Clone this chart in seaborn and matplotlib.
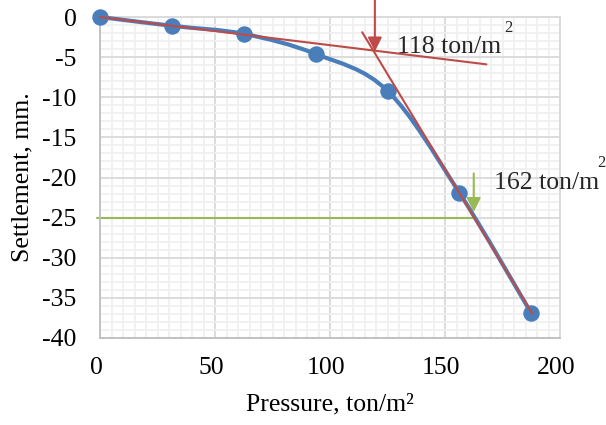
import numpy as np
import pandas as pd
import seaborn as sns
import matplotlib
matplotlib.use("Agg")
import matplotlib.pyplot as plt
import matplotlib.transforms as mtransforms
from matplotlib.path import Path
from matplotlib.patches import PathPatch
from matplotlib.ticker import MultipleLocator

# ---- data ----
pressure = [0, 31.25, 62.5, 93.75, 125, 156.25, 187.5]
settlement = [0, -1.1, -2.1, -4.6, -9.2, -21.9, -36.9]

tangent1_x = [0, 168]
tangent1_y = [0, -5.9]
tangent2_x = [114, 188]
tangent2_y = [-1.9, -37.0]

yield_pressure = 118
yield_label = "118 ton/m"
allow_pressure = 162
allow_label = "162 ton/m"
allow_settlement = -25

x_ticks = [0, 50, 100, 150, 200]
y_ticks = [0, -5, -10, -15, -20, -25, -30, -35, -40]

BLUE = "#4A7EBB"
RED = "#BE4B48"
GREEN = "#98B954"

sns.set_theme(style="white")
plt.rcParams["font.family"] = ["Liberation Serif", "DejaVu Serif"]

fig = plt.figure(figsize=(6.06, 4.25), dpi=100)
ax = fig.add_axes([100 / 606, 1 - 338 / 425, 460 / 606, 321 / 425])

df = pd.DataFrame({"Pressure": pressure, "Settlement": settlement})

# smooth curve (Excel-style Catmull-Rom Bezier through data points)
P = np.column_stack([pressure, settlement]).astype(float)
ext = np.vstack([P[0], P, P[-1]])
verts = [tuple(P[0])]
codes = [Path.MOVETO]
for i in range(len(P) - 1):
    p0, p1, p2, p3 = ext[i], ext[i + 1], ext[i + 2], ext[i + 3]
    c1 = p1 + (p2 - p0) / 6.0
    c2 = p2 - (p3 - p1) / 6.0
    verts += [tuple(c1), tuple(c2), tuple(p2)]
    codes += [Path.CURVE4] * 3
ax.add_patch(PathPatch(Path(verts, codes), facecolor="none", edgecolor=BLUE,
                       lw=3, zorder=3, capstyle="round", clip_on=False))

sc = sns.scatterplot(data=df, x="Pressure", y="Settlement", ax=ax, color=BLUE,
                     s=140, edgecolor=BLUE, linewidth=0, zorder=4, legend=False)
for coll in ax.collections:
    coll.set_clip_on(False)

# tangents
ax.plot(tangent1_x, tangent1_y, color=RED, lw=1.5, zorder=5, clip_on=False)
ax.plot(tangent2_x, tangent2_y, color=RED, lw=1.5, zorder=5)

# green settlement line
ax.plot([-1.5, allow_pressure], [allow_settlement, allow_settlement],
        color=GREEN, lw=1.5, zorder=2, clip_on=False)

# arrows
ax.annotate("", xy=(119.5, -4.3), xytext=(119.5, 2.1),
            arrowprops=dict(arrowstyle="-|>,head_length=0.7,head_width=0.35",
                            color=RED, lw=1.5, shrinkA=0, shrinkB=0),
            annotation_clip=False, zorder=6)
ax.annotate("", xy=(162.5, -24.3), xytext=(162.5, -19.5),
            arrowprops=dict(arrowstyle="-|>,head_length=0.7,head_width=0.35",
                            color=GREEN, lw=1.5, shrinkA=0, shrinkB=0),
            annotation_clip=False, zorder=6)

# labels for the two pressures
ax.text(129, -3.7, yield_label, fontsize=18.5, ha="left", va="center", zorder=7)
ax.text(177.5, -1.4, "2", fontsize=12, ha="center", va="center", zorder=7)
ax.text(171.5, -20.7, allow_label, fontsize=18.5, ha="left", va="center",
        zorder=7, clip_on=False)
ax.text(218, -18.2, "2", fontsize=12, ha="center", va="center",
        zorder=7, clip_on=False)

# axes
ax.set_xlim(0, 200)
ax.set_ylim(-40, 0)
ax.set_xticks(x_ticks)
ax.set_yticks(y_ticks)
ax.set_xticklabels([str(t) for t in x_ticks])
ax.set_yticklabels([str(t) for t in y_ticks])
ax.xaxis.set_minor_locator(MultipleLocator(5))
ax.yaxis.set_minor_locator(MultipleLocator(1))
ax.grid(which="major", color="#D9D9D9", lw=1.3, zorder=0)
ax.grid(which="minor", color="#F0F0F0", lw=1.3, zorder=0)
ax.set_axisbelow(True)
ax.tick_params(which="both", length=0, labelsize=18.5, colors="black")
ax.tick_params(axis="x", pad=14)
ax.tick_params(axis="y", pad=17)
shift = mtransforms.ScaledTranslation(-4 / 100, 0, fig.dpi_scale_trans)
for lbl in ax.get_xticklabels():
    lbl.set_transform(lbl.get_transform() + shift)
for s in ["top", "right", "bottom", "left"]:
    ax.spines[s].set_color("#D9D9D9")
    ax.spines[s].set_linewidth(1.3)
ax.spines["left"].set_color("#BFBFBF")
ax.spines["bottom"].set_color("#BFBFBF")

ax.set_xlabel("Pressure, ton/m\u00b2", fontsize=18.5, labelpad=10)
ax.set_ylabel("Settlement, mm.", fontsize=18.5, labelpad=6)
ax.xaxis.label.set_color("black")
ax.yaxis.label.set_color("black")

fig.savefig("out.png", dpi=100)
